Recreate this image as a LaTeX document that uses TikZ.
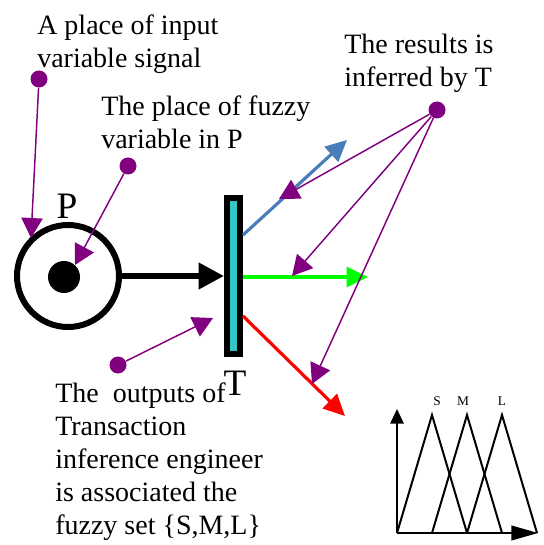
\documentclass[tikz,border=0pt]{standalone}
\usepackage{fontspec}
\setmainfont{Liberation Serif}
\usepackage{xcolor}
\usepackage{tikz}
\usetikzlibrary{arrows.meta}

\definecolor{pinpurple}{RGB}{128,0,128}
\definecolor{barcyan}{RGB}{51,200,200}
\definecolor{outblue}{RGB}{74,126,187}
\definecolor{outgreen}{RGB}{0,255,0}
\definecolor{outred}{RGB}{255,0,0}

\begin{document}
\begin{tikzpicture}[x=0.75pt, y=-0.75pt,
    txt/.style={anchor=north west, inner sep=0pt, align=left,
                font=\fontsize{21}{24.75}\selectfont},
    big/.style={inner sep=0pt, anchor=base, font=\fontsize{28}{30}\selectfont},
    pin/.style={circle, fill=pinpurple, inner sep=0pt, minimum size=12.75pt},
    pinarrow/.style={-{Triangle[length=15pt, width=16pt]}, draw=pinpurple,
                     line width=1.1pt},
    outarrow/.style={-{Triangle[length=16pt, width=15pt]}, line width=2.4pt},
    axis/.style={line width=1.5pt}]
  \useasboundingbox (0,0) rectangle (543,545);

  % place P and transition T
  \node[circle, draw, line width=4.5pt, minimum size=76.5pt, inner sep=0pt]
        (place) at (68,276) {};
  \node[circle, fill=black, minimum size=24pt, inner sep=0pt] (token) at (64,277) {};
  \node[big] (plabel) at (67,218) {P};
  \node[rectangle, draw, line width=4.5pt, fill=barcyan, minimum width=9.75pt,
        minimum height=117pt, inner sep=0pt] (trans) at (233.5,276) {};
  \node[big] (tlabel) at (235,395) {T};
  \draw[-{Triangle[length=19pt, width=19pt]}, line width=4.5pt] (place) -- (trans);

  % outputs of T
  \coordinate (blueend) at (347,140);
  \coordinate (greenend) at (368,277);
  \coordinate (redend) at (345,416);
  \draw[outarrow, outblue] (trans.east |- 0,235) -- (blueend);
  \draw[outarrow, outgreen] (trans.east |- 0,277) -- (greenend);
  \draw[outarrow, outred] (trans.east |- 0,316) -- (redend);

  % labels and their pins
  \node[txt] (inputtxt) at (37,15) {A place of input\\variable signal};
  \node[txt] (fuzzytxt) at (101,96) {The place of fuzzy\\variable in P};
  \node[txt] (restxt) at (344,34) {The results is\\inferred by T};
  \node[txt] (outtxt) at (55,383)
        {The\ \ outputs of\\Transaction\\inference engineer\\is associated the\\fuzzy set \{S,M,L\}};

  \node[pin] (pinin) at (39,79) {};
  \node[pin] (pinfz) at (128,166) {};
  \node[pin] (pinout) at (118,365) {};
  \node[pin] (pinres) at (437,110) {};
  \coordinate (ininend) at (31,238);
  \coordinate (fzend) at (75,265);
  \coordinate (outend) at (213,318);
  \coordinate (resend1) at (279,199);
  \coordinate (resend2) at (292,276);
  \coordinate (resend3) at (312,384);
  \draw[pinarrow] (pinin) -- (ininend);
  \draw[pinarrow] (pinfz) -- (fzend);
  \draw[pinarrow] (pinout) -- (outend);
  \draw[pinarrow] (pinres) -- (resend1);
  \draw[pinarrow] (pinres) -- (resend2);
  \draw[pinarrow] (pinres) -- (resend3);

  % fuzzy set S, M, L
  \coordinate (org) at (397,533);
  \draw[axis, -{Triangle[length=11pt, width=10pt]}] (org) -- (397,409);
  \draw[axis, -{Triangle[length=20pt, width=11pt]}] (org) -- (538,533);
  \foreach \px/\lx/\nm in {432/437/S, 467/463/M, 502/502/L} {
    \draw[axis] (\px-35,533) -- (\px,415) -- (\px+35,533);
    \node[font=\fontsize{10}{12}\selectfont, inner sep=0pt] (lbl\nm) at (\lx,401) {\nm};
  }
\end{tikzpicture}
\end{document}
